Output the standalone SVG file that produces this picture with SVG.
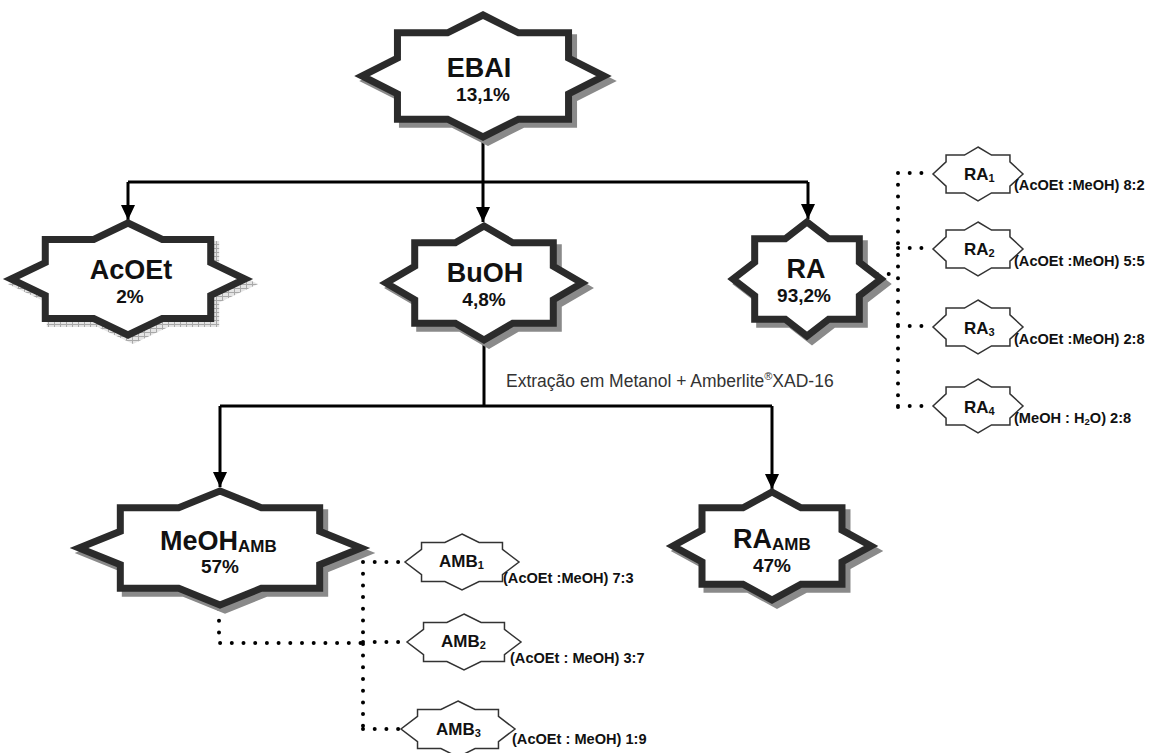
<svg xmlns="http://www.w3.org/2000/svg" width="1151" height="753" viewBox="0 0 1151 753">
<style>
.big{fill:#fff;stroke:#2b2b2b;stroke-width:7;stroke-miterlimit:10}
.shd{fill:#8a8a8a;stroke:#8a8a8a;stroke-width:7;stroke-miterlimit:10}
.sm{fill:#fff;stroke:#333;stroke-width:1.5}
.t{font-family:"Liberation Sans",Arial,sans-serif;font-weight:bold;fill:#111}
.nm{font-size:27px;text-anchor:middle}
.pc{font-size:19px;text-anchor:middle}
.sl{font-size:17px}
.lb{font-size:14.6px}
.con{fill:none;stroke:#000;stroke-width:3}
.dot{fill:none;stroke:#000;stroke-width:4;stroke-linecap:round;stroke-dasharray:0 11.7}
</style>
<defs>
<path id="s8" vector-effect="non-scaling-stroke" d="M0,-1 L0.293,-0.707 L0.707,-0.707 L0.707,-0.293 L1,0 L0.707,0.293 L0.707,0.707 L0.293,0.707 L0,1 L-0.293,0.707 L-0.707,0.707 L-0.707,0.293 L-1,0 L-0.707,-0.293 L-0.707,-0.707 L-0.293,-0.707 Z"/>
<path id="s8s" vector-effect="non-scaling-stroke" d="M0,-1 L0.3,-0.7 L0.71,-0.7 L0.71,-0.45 L1,0 L0.71,0.45 L0.71,0.7 L0.3,0.7 L0,1 L-0.3,0.7 L-0.71,0.7 L-0.71,0.45 L-1,0 L-0.71,-0.45 L-0.71,-0.7 L-0.3,-0.7 Z"/>
<pattern id="hatch" width="6" height="4" patternUnits="userSpaceOnUse"><rect width="6" height="4" fill="#e4e4e4"/><path d="M0,0.5 H6 M0.5,0 V4" stroke="#a8a8a8" stroke-width="1"/></pattern>
<marker id="arr" markerUnits="userSpaceOnUse" markerWidth="16" markerHeight="14" refX="15" refY="7" orient="auto"><path d="M0,0 L15,7 L0,14 Z" fill="#000"/></marker>
</defs>

<g id="connectors">
<path class="con" d="M483,140 V182 M128,182 H808"/>
<path class="con" d="M128,182 V220" marker-end="url(#arr)"/>
<path class="con" d="M483,182 V222" marker-end="url(#arr)"/>
<path class="con" d="M808,182 V219" marker-end="url(#arr)"/>
<path class="con" d="M484,343 V406 M220,406 H772"/>
<path class="con" d="M220,406 V487" marker-end="url(#arr)"/>
<path class="con" d="M772,406 V489" marker-end="url(#arr)"/>
<path class="dot" d="M877,274 H898 M898,173 V407 M898,173 H933 M898,248 H933 M898,326 H932 M898,406 H933"/>
<path class="dot" d="M219,609 V643 H363 M363,562 V729 M363,562 H405 M363,642 H406 M363,729 H400"/>
<text x="506" y="387" font-family="Liberation Sans, Arial, sans-serif" font-size="17.5" fill="#333">Extração em Metanol + Amberlite<tspan font-size="11" dy="-7">®</tspan><tspan dy="7">XAD-16</tspan></text>
</g>

<g id="EBAI">
<use href="#s8" class="shd" transform="translate(488,81) scale(121,61)"/>
<use href="#s8" class="big" transform="translate(483,76) scale(121,61)"/>
<text class="t nm" x="479" y="77">EBAI</text>
<text class="t pc" x="483" y="101">13,1%</text>
</g>

<g id="AcOEt">
<path fill="url(#hatch)" stroke="url(#hatch)" stroke-width="7" d="M133,228 L167.3,244.4 L215.7,244.4 L215.7,267.6 L250,284 L215.7,300.4 L215.7,323.6 L167.3,323.6 L133,340 L98.7,323.6 L50.3,323.6 L50.3,300.4 L16,284 L50.3,267.6 L50.3,244.4 L98.7,244.4 Z"/>
<use href="#s8" class="big" transform="translate(128,279) scale(117,56)"/>
<text class="t nm" x="131" y="279">AcOEt</text>
<text class="t pc" x="130" y="303">2%</text>
</g>

<g id="BuOH">
<use href="#s8" class="shd" transform="translate(489,288) scale(98,57)"/>
<use href="#s8" class="big" transform="translate(484,283) scale(98,57)"/>
<text class="t nm" x="485" y="282">BuOH</text>
<text class="t pc" x="484" y="306">4,8%</text>
</g>

<g id="RA">
<use href="#s8" class="shd" transform="translate(812,284) scale(74,57)"/>
<use href="#s8" class="big" transform="translate(807,279) scale(74,57)"/>
<text class="t nm" x="806" y="278">RA</text>
<text class="t pc" x="804" y="302">93,2%</text>
</g>

<g id="MeOH_AMB">
<use href="#s8" class="shd" transform="translate(225,553) scale(141,57)"/>
<use href="#s8" class="big" transform="translate(220,548) scale(141,57)"/>
<text class="t" x="160" y="550" font-size="27">MeOH<tspan font-size="17" dy="2">AMB</tspan></text>
<text class="t pc" x="220" y="573" font-size="20">57%</text>
</g>

<g id="RA_AMB">
<use href="#s8" class="shd" transform="translate(777,551) scale(99,54)"/>
<use href="#s8" class="big" transform="translate(772,546) scale(99,54)"/>
<text class="t" x="733" y="548" font-size="27">RA<tspan font-size="17" dy="2">AMB</tspan></text>
<text class="t pc" x="772" y="572" font-size="20">47%</text>
</g>

<g id="RA1">
<use href="#s8s" class="sm" transform="translate(978,174) scale(45,27)"/>
<text class="t sl" x="964" y="180">RA<tspan font-size="11" dy="2">1</tspan></text>
<text class="t lb" x="1014" y="190">(AcOEt :MeOH) 8:2</text>
</g>
<g id="RA2">
<use href="#s8s" class="sm" transform="translate(978,249) scale(45,27)"/>
<text class="t sl" x="964" y="255">RA<tspan font-size="11" dy="2">2</tspan></text>
<text class="t lb" x="1014" y="266">(AcOEt :MeOH) 5:5</text>
</g>
<g id="RA3">
<use href="#s8s" class="sm" transform="translate(978,327) scale(45,27)"/>
<text class="t sl" x="964" y="334">RA<tspan font-size="11" dy="2">3</tspan></text>
<text class="t lb" x="1014" y="344">(AcOEt :MeOH) 2:8</text>
</g>
<g id="RA4">
<use href="#s8s" class="sm" transform="translate(978,406) scale(45,27)"/>
<text class="t sl" x="964" y="413">RA<tspan font-size="11" dy="2">4</tspan></text>
<text class="t lb" x="1014" y="423">(MeOH : H<tspan font-size="9.5" dy="2">2</tspan><tspan dy="-2">O) 2:8</tspan></text>
</g>

<g id="AMB1">
<use href="#s8s" class="sm" transform="translate(462,562) scale(57,28)"/>
<text class="t sl" x="439" y="567">AMB<tspan font-size="11" dy="2">1</tspan></text>
<text class="t lb" x="503" y="583">(AcOEt :MeOH) 7:3</text>
</g>
<g id="AMB2">
<use href="#s8s" class="sm" transform="translate(464,642) scale(57,28)"/>
<text class="t sl" x="441" y="647">AMB<tspan font-size="11" dy="2">2</tspan></text>
<text class="t lb" x="510" y="663">(AcOEt : MeOH) 3:7</text>
</g>
<g id="AMB3">
<use href="#s8s" class="sm" transform="translate(458,729) scale(57,28)"/>
<text class="t sl" x="436" y="735">AMB<tspan font-size="11" dy="2">3</tspan></text>
<text class="t lb" x="512" y="744">(AcOEt : MeOH) 1:9</text>
</g>
</svg>
